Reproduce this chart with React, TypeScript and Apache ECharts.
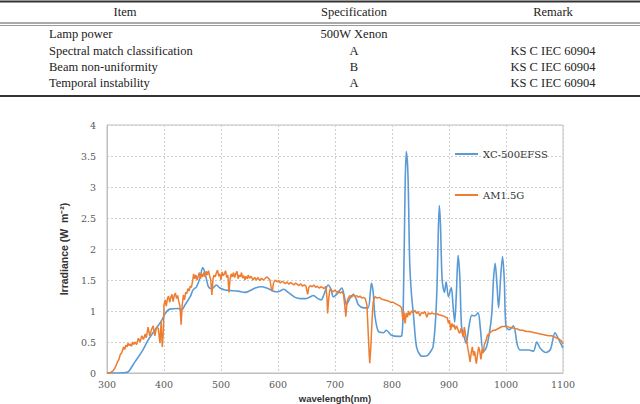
import React, { useEffect, useRef } from "react";
import * as echarts from "echarts";

const tableHeaders = ["Item", "Specification", "Remark"];
const tableItems = ["Lamp power", "Spectral match classification", "Beam non-uniformity", "Temporal instability"];
const tableSpecs = ["500W Xenon", "A", "B", "A"];
const tableRemarks = ["", "KS C IEC 60904", "KS C IEC 60904", "KS C IEC 60904"];

const seriesNames = ["XC-500EFSS", "AM1.5G"];

const xcWavelength = [300, 320, 335, 340, 349, 361, 372, 384, 396, 402, 410, 425, 431, 437, 446, 451, 457, 463, 468, 472, 478, 484, 492, 498, 507, 530, 542, 560, 571, 580, 590, 596, 603, 610, 618, 630, 640, 648, 655, 662, 670, 676, 680, 688, 693, 697, 704, 712, 716, 720, 726, 732, 737, 741, 750, 758, 762, 764, 767, 770, 776, 785, 790, 799, 811, 817, 820, 823, 825, 828, 831, 834, 838, 843, 850, 856, 862, 868, 872, 876, 879, 881, 883, 885, 888, 892, 895, 899, 904, 907, 910, 913, 916, 919, 922, 926, 930, 935, 940, 945, 951, 955, 960, 965, 970, 975, 978, 981, 984, 987, 991, 994, 997, 1000, 1006, 1013, 1020, 1025, 1040, 1048, 1054, 1060, 1070, 1078, 1086, 1092, 1100];
const xcIrradiance = [0, 0, 0.01, 0.05, 0.18, 0.34, 0.53, 0.69, 0.85, 0.96, 1.03, 1.04, 1.02, 1.1, 1.23, 1.34, 1.39, 1.53, 1.7, 1.61, 1.39, 1.36, 1.42, 1.37, 1.34, 1.32, 1.3, 1.37, 1.39, 1.37, 1.33, 1.31, 1.32, 1.35, 1.3, 1.22, 1.2, 1.2, 1.22, 1.25, 1.2, 1.18, 1.25, 1.42, 1.35, 1.23, 1.28, 1.37, 1.25, 1.1, 1.2, 1.27, 1.2, 1.1, 1.05, 1.05, 1.3, 1.45, 1.3, 0.93, 0.67, 0.65, 0.69, 0.61, 0.59, 0.6, 1.2, 3.0, 3.57, 3.2, 1.8, 1.29, 0.9, 0.42, 0.28, 0.27, 0.28, 0.35, 0.42, 0.8, 1.4, 2.2, 2.7, 2.4, 1.5, 1.3, 1.47, 1.23, 1.38, 1.1, 0.82, 1.3, 1.9, 1.55, 0.75, 0.6, 0.48, 0.75, 0.93, 0.92, 0.97, 0.72, 0.34, 0.4, 0.6, 0.95, 1.5, 1.77, 1.45, 1.05, 1.6, 1.88, 1.5, 0.75, 0.7, 0.76, 0.45, 0.37, 0.37, 0.35, 0.5, 0.4, 0.33, 0.38, 0.65, 0.55, 0.4];

const amWavelength = [300, 305, 310, 314, 318, 321, 323, 326, 329, 331, 333, 335, 337, 339, 341, 343, 345, 347, 349, 352, 355, 358, 361, 364, 367, 369, 372, 375, 378, 381, 384, 387, 390, 392, 393, 395, 397, 399, 400, 402, 404, 406, 408, 410, 412, 414, 416, 418, 420, 422, 424, 426, 428, 430, 432, 434, 436, 438, 440, 442, 444, 446, 448, 450, 452, 454, 456, 458, 460, 462, 464, 466, 468, 470, 472, 474, 476, 478, 480, 482, 484, 486, 488, 490, 492, 494, 496, 498, 500, 502, 504, 506, 508, 510, 512, 514, 516, 518, 520, 522, 524, 526, 528, 530, 532, 534, 536, 538, 540, 542, 544, 546, 548, 550, 553, 556, 559, 562, 565, 568, 571, 574, 577, 580, 583, 586, 588, 590, 592, 595, 598, 601, 604, 607, 610, 613, 616, 619, 622, 625, 628, 631, 634, 637, 640, 643, 646, 649, 652, 654, 657, 660, 663, 666, 669, 672, 675, 678, 681, 684, 686, 687, 689, 691, 694, 697, 700, 703, 706, 709, 712, 715, 717, 719, 721, 723, 726, 729, 732, 735, 738, 741, 744, 747, 750, 753, 756, 758, 760, 761, 763, 765, 767, 770, 774, 778, 782, 786, 790, 794, 798, 802, 806, 810, 814, 817, 819, 821, 823, 825, 827, 829, 831, 834, 837, 840, 843, 846, 849, 852, 855, 858, 861, 864, 867, 870, 874, 878, 882, 886, 890, 894, 897, 899, 901, 903, 905, 907, 909, 911, 913, 915, 917, 919, 921, 923, 925, 927, 929, 931, 933, 935, 937, 939, 941, 943, 945, 947, 948, 950, 952, 954, 956, 958, 960, 962, 964, 966, 968, 970, 972, 975, 978, 981, 985, 989, 993, 997, 1000, 1005, 1010, 1015, 1020, 1025, 1030, 1035, 1040, 1045, 1050, 1055, 1060, 1065, 1070, 1075, 1080, 1085, 1090, 1094, 1097, 1100];
const amIrradiance = [0, 0, 0.03, 0.08, 0.17, 0.22, 0.29, 0.33, 0.42, 0.38, 0.45, 0.42, 0.48, 0.44, 0.47, 0.43, 0.5, 0.46, 0.5, 0.46, 0.56, 0.5, 0.6, 0.54, 0.63, 0.57, 0.74, 0.6, 0.7, 0.76, 0.6, 0.74, 0.72, 0.55, 0.48, 0.83, 0.42, 0.68, 1.1, 1.18, 1.08, 1.2, 1.24, 1.14, 1.22, 1.27, 1.15, 1.25, 1.29, 1.2, 1.25, 1.15, 1.08, 0.78, 1.1, 1.26, 1.18, 1.3, 1.28, 1.36, 1.32, 1.4, 1.38, 1.47, 1.6, 1.52, 1.58, 1.5, 1.56, 1.62, 1.52, 1.6, 1.55, 1.62, 1.55, 1.64, 1.58, 1.65, 1.57, 1.5, 1.26, 1.52, 1.58, 1.55, 1.62, 1.66, 1.56, 1.6, 1.5, 1.63, 1.57, 1.6, 1.65, 1.54, 1.58, 1.3, 1.52, 1.6, 1.55, 1.62, 1.54, 1.6, 1.64, 1.52, 1.58, 1.55, 1.62, 1.53, 1.57, 1.5, 1.56, 1.52, 1.58, 1.53, 1.56, 1.5, 1.54, 1.5, 1.54, 1.49, 1.53, 1.5, 1.52, 1.55, 1.53, 1.5, 1.38, 1.32, 1.45, 1.5, 1.47, 1.49, 1.45, 1.48, 1.46, 1.44, 1.47, 1.43, 1.46, 1.44, 1.42, 1.45, 1.43, 1.41, 1.44, 1.4, 1.42, 1.4, 1.27, 1.38, 1.41, 1.39, 1.42, 1.38, 1.4, 1.37, 1.39, 1.38, 1.36, 1.4, 1.2, 0.96, 1.2, 1.35, 1.33, 1.31, 1.34, 1.3, 1.32, 1.29, 1.31, 1.27, 1.1, 0.91, 1.15, 1.2, 1.25, 1.22, 1.26, 1.23, 1.25, 1.22, 1.24, 1.21, 1.22, 1.2, 1.1, 0.7, 0.3, 0.16, 0.45, 0.85, 1.15, 1.23, 1.21, 1.22, 1.19, 1.18, 1.17, 1.16, 1.14, 1.14, 1.12, 1.1, 1.08, 1.05, 0.85, 0.98, 0.8, 0.97, 0.9, 1.0, 0.93, 1.0, 0.97, 1.01, 0.96, 0.99, 0.92, 0.98, 0.96, 0.99, 0.9, 0.97, 0.95, 0.97, 0.95, 0.96, 0.94, 0.93, 0.92, 0.9, 0.89, 0.8, 0.85, 0.69, 0.8, 0.74, 0.78, 0.7, 0.76, 0.72, 0.66, 0.64, 0.72, 0.65, 0.58, 0.74, 0.62, 0.52, 0.4, 0.3, 0.18, 0.33, 0.42, 0.28, 0.35, 0.2, 0.15, 0.3, 0.42, 0.35, 0.22, 0.38, 0.32, 0.46, 0.5, 0.56, 0.62, 0.6, 0.66, 0.67, 0.69, 0.69, 0.71, 0.73, 0.75, 0.75, 0.76, 0.74, 0.73, 0.72, 0.71, 0.69, 0.69, 0.67, 0.67, 0.66, 0.65, 0.64, 0.63, 0.62, 0.61, 0.6, 0.6, 0.58, 0.56, 0.54, 0.52, 0.47];

const serif = "Liberation Serif, serif";
const tickFont = "DejaVu Serif, serif";
const sans = "Liberation Sans, Arial, sans-serif";

function tableGraphics() {
  const els: any[] = [];
  const line = (y: number, w: number, c: string) => ({
    type: "line",
    shape: { x1: 0, y1: y, x2: 640, y2: y },
    style: { stroke: c, lineWidth: w },
    silent: true,
  });
  els.push(line(1.5, 2, "#333333"));
  els.push(line(23, 1, "#555555"));
  els.push(line(25.5, 1, "#9a9a9a"));
  els.push(line(96, 2, "#333333"));
  const text = (t: string, x: number, y: number, align: string) => ({
    type: "text",
    x,
    y,
    silent: true,
    style: {
      text: t,
      fill: "#222222",
      fontSize: 12.5,
      fontFamily: serif,
      textAlign: align,
      textVerticalAlign: "middle",
      align,
      verticalAlign: "middle",
    },
  });
  const colX = [125, 354, 553];
  tableHeaders.forEach((h, i) => els.push(text(h, colX[i], 12, "center")));
  const rowY = [34, 51, 67, 83];
  tableItems.forEach((t, i) => {
    els.push(text(t, 49, rowY[i], "left"));
    els.push(text(tableSpecs[i], colX[1], rowY[i], "center"));
    if (tableRemarks[i]) els.push(text(tableRemarks[i], colX[2], rowY[i], "center"));
  });
  return els;
}

export default function App() {
  const ref = useRef<HTMLDivElement>(null);
  useEffect(() => {
    if (!ref.current) return;
    const chart = echarts.init(ref.current, null, { renderer: "svg" });
    chart.setOption({
      animation: false,
      backgroundColor: "#ffffff",
      graphic: tableGraphics(),
      grid: {
        left: 107,
        right: 77,
        top: 125,
        bottom: 31,
        show: true,
        borderColor: "#bfbfbf",
        borderWidth: 1,
        outerBoundsMode: "none",
        containLabel: false,
      },
      legend: {
        data: seriesNames,
        orient: "vertical",
        left: 455,
        top: 149,
        padding: 0,
        itemWidth: 23,
        itemHeight: 2,
        itemGap: 31,
        icon: "rect",
        textStyle: { fontFamily: tickFont, fontSize: 10, color: "#333333" },
      },
      xAxis: {
        type: "value",
        min: 300,
        max: 1100,
        interval: 100,
        name: "wavelength(nm)",
        nameLocation: "middle",
        nameGap: 18,
        nameTextStyle: { fontFamily: sans, fontWeight: "bold", fontSize: 9.5, color: "#333333", lineHeight: 10 },
        axisLine: { show: true, lineStyle: { color: "#bfbfbf" } },
        axisTick: { show: false },
        axisLabel: {
          color: "#595959",
          fontFamily: tickFont,
          fontSize: 9.5,
          margin: 6,
          formatter: (v: number) => String(v),
        },
        splitLine: { show: true, lineStyle: { type: [2, 2], color: "#cfcfcf" } },
      },
      yAxis: {
        type: "value",
        min: 0,
        max: 4,
        interval: 0.5,
        name: "Irradiance (W  m⁻²)",
        nameLocation: "middle",
        nameRotate: 90,
        nameGap: 35,
        nameTextStyle: { fontFamily: sans, fontWeight: "bold", fontSize: 10.5, color: "#333333" },
        axisLine: { show: true, lineStyle: { color: "#bfbfbf" } },
        axisTick: { show: false },
        axisLabel: {
          color: "#595959",
          fontFamily: tickFont,
          fontSize: 9.5,
          margin: 11,
          formatter: (v: number) => String(v),
        },
        splitLine: { show: true, lineStyle: { type: [2, 2], color: "#cfcfcf" } },
      },
      series: [
        {
          name: seriesNames[0],
          type: "line",
          showSymbol: false,
          smooth: 0.3,
          color: "#5b9bd5",
          lineStyle: { width: 1.6, color: "#5b9bd5" },
          data: xcWavelength.map((w, i) => [w, xcIrradiance[i]]),
        },
        {
          name: seriesNames[1],
          type: "line",
          showSymbol: false,
          color: "#ed7d31",
          lineStyle: { width: 1.5, color: "#ed7d31" },
          data: amWavelength.map((w, i) => [w, amIrradiance[i]]),
        },
      ],
    });
    return () => chart.dispose();
  }, []);
  return (
    <div
      ref={ref}
      style={{ position: "absolute", left: 0, top: 0, width: 640, height: 404, background: "#fff" }}
    />
  );
}
